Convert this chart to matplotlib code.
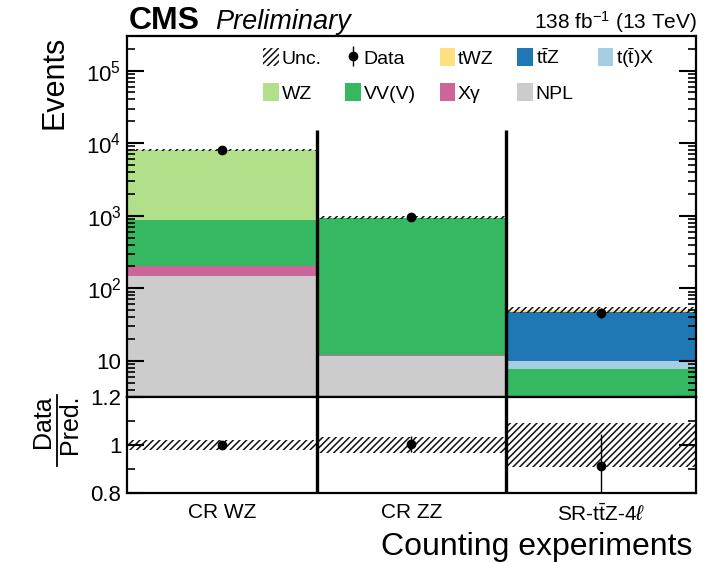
import numpy as np
import matplotlib
matplotlib.use('Agg')
import matplotlib.pyplot as plt
from matplotlib.patches import Patch
from matplotlib.lines import Line2D
from matplotlib.ticker import FixedLocator, FuncFormatter, LogLocator, NullFormatter

plt.rcParams['font.family'] = ['Liberation Sans', 'DejaVu Sans']
plt.rcParams['mathtext.fontset'] = 'custom'
plt.rcParams['mathtext.rm'] = 'Liberation Sans'
plt.rcParams['mathtext.it'] = 'Liberation Sans:italic'
plt.rcParams['mathtext.bf'] = 'Liberation Sans:bold'
plt.rcParams['hatch.linewidth'] = 1.1

# Counting experiments (bins)
regions = ['CR WZ', 'CR ZZ', r'SR-t$\bar{\mathrm{t}}$Z-4$\ell$']

# Predicted yields per process, stacked bottom to top
npl = [149, 11.6, 0.9]
xgamma = [56, 0.5, 0.2]
vvv = [668, 925, 6.6]
wz = [7180, 2.0, 0.1]
ttx = [12, 0.5, 2.2]
ttz = [6, 1.5, 36.5]
twz = [1, 0.1, 4.0]

data = [8060, 945, 46]
unc = [0.02, 0.035, 0.09]  # relative uncertainty of the prediction

stack = [
    (npl, '#cccccc', 'NPL'),
    (xgamma, '#cc6699', 'Xγ'),
    (vvv, '#36b862', 'VV(V)'),
    (wz, '#b2df8a', 'WZ'),
    (ttx, '#a6cee3', r'$\mathrm{t(\bar{t})X}$'),
    (ttz, '#1f78b4', r'$\mathrm{t\bar{t}Z}$'),
    (twz, '#fde080', 'tWZ'),
]

x = np.arange(len(regions))
data = np.array(data, dtype=float)
unc = np.array(unc)
HATCH = '/////'

fig = plt.figure(figsize=(7.07, 5.62), dpi=100)
ax = fig.add_axes([0.1796, 0.2936, 0.8048, 0.6423])
rax = fig.add_axes([0.1796, 0.1228, 0.8048, 0.1708], sharex=ax)

ax.set_yscale('log')
handles = {}
bottom = np.zeros(len(regions))
for vals, col, lab in stack:
    vals = np.array(vals, dtype=float)
    handles[lab] = ax.bar(x, vals, width=1.0, bottom=bottom, align='edge',
                          color=col, linewidth=0, label=lab)
    bottom += vals
tot = bottom

# uncertainty band on top of the stack
ax.bar(x, 2 * unc * tot, bottom=tot * (1 - unc), width=1.0, align='edge',
       facecolor='none', edgecolor='#111111', hatch=HATCH, linewidth=0)
dat = ax.errorbar(x + 0.5, data, yerr=np.sqrt(data), fmt='o', color='black',
                  ms=6, elinewidth=1, capsize=0)

ymin, ymax = 3.16, 3.0e5
ax.vlines(x[1:], ymin, 1.5e4, colors='black', lw=2.4, zorder=5)
ax.set_ylim(ymin, ymax)
ax.set_xlim(0, len(regions))

ax.yaxis.set_major_locator(FixedLocator([10, 1e2, 1e3, 1e4, 1e5]))
ax.yaxis.set_major_formatter(FuncFormatter(
    lambda v, p: '10' if round(np.log10(v)) == 1 else r'$10^{%d}$' % round(np.log10(v))))
ax.yaxis.set_minor_locator(LogLocator(base=10, subs=np.arange(2, 10)))
ax.yaxis.set_minor_formatter(NullFormatter())
ax.tick_params(axis='x', which='both', length=0, labelbottom=False)
ax.tick_params(axis='y', which='both', direction='in', right=True, labelsize=16, pad=4)
ax.tick_params(axis='y', which='major', length=12, width=1.5)
ax.tick_params(axis='y', which='minor', length=6, width=1.2)
for s in ax.spines.values():
    s.set_linewidth(1.6)

# ratio panel
ratio = data / tot
rax.bar(x, 2 * unc, bottom=1 - unc, width=1.0, align='edge',
        facecolor='none', edgecolor='#111111', hatch=HATCH, linewidth=0)
rax.errorbar(x + 0.5, ratio, yerr=np.sqrt(data) / tot, fmt='o', color='black',
             ms=6, elinewidth=1, capsize=0)
for xe in x[1:]:
    rax.axvline(xe, color='black', lw=2.4, zorder=5)
rax.set_ylim(0.8, 1.2)
rax.set_yticks([0.8, 1.0, 1.2])
rax.set_yticklabels(['0.8', '1', '1.2'])
rax.set_yticks([0.9, 1.1], minor=True)
rax.set_xticks(x + 0.5)
rax.set_xticklabels(regions, fontsize=15)
rax.tick_params(axis='x', which='both', length=0, pad=7)
rax.tick_params(axis='y', which='both', direction='in', right=True, labelsize=16, pad=4)
rax.tick_params(axis='y', which='major', length=12, width=1.5)
rax.tick_params(axis='y', which='minor', length=6, width=1.2)
for s in rax.spines.values():
    s.set_linewidth(1.6)

# legend
unc_h = Patch(facecolor='white', edgecolor='#111111', hatch=HATCH, linewidth=0)
leg_handles = [unc_h, handles['WZ'], dat, handles['VV(V)'], handles['tWZ'],
               handles['Xγ'], handles[r'$\mathrm{t\bar{t}Z}$'], handles['NPL'],
               handles[r'$\mathrm{t(\bar{t})X}$']]
leg_labels = ['Unc.', 'WZ', 'Data', 'VV(V)', 'tWZ', 'Xγ',
              r'$\mathrm{t\bar{t}Z}$', 'NPL', r'$\mathrm{t(\bar{t})X}$']
ax.legend(leg_handles, leg_labels, ncol=5, loc='upper left',
          bbox_to_anchor=(263 / 707, 1 - 46 / 562), bbox_transform=fig.transFigure,
          frameon=False, fontsize=14, handlelength=0.8, handleheight=1.05,
          handletextpad=0.15, columnspacing=1.22, labelspacing=0.8,
          borderpad=0, borderaxespad=0)

# labels and headers
fig.text(55 / 707, 1 - 36 / 562, 'Events', rotation=90, ha='center', va='top', fontsize=22)
fig.text(43 / 707, 1 - 395 / 562, 'Data', rotation=90, ha='center', va='top', fontsize=18)
fig.text(70 / 707, 1 - 395 / 562, 'Pred.', rotation=90, ha='center', va='top', fontsize=18)
fig.add_artist(Line2D([57 / 707, 57 / 707], [1 - 395 / 562, 1 - 466 / 562],
                      color='black', lw=1.3, transform=fig.transFigure))
fig.text(692 / 707, 7 / 562, 'Counting experiments', ha='right', va='baseline', fontsize=23)

fig.text(129 / 707, 1 - 29 / 562, 'CMS', fontsize=23, fontweight='bold', va='baseline')
fig.text(215 / 707, 1 - 29 / 562, 'Preliminary', fontsize=19.5, style='italic', va='baseline')
fig.text(697 / 707, 1 - 29 / 562, r'138 fb$^{-1}$ (13 TeV)', fontsize=15,
         ha='right', va='baseline')

fig.savefig('out.png', dpi=100)
